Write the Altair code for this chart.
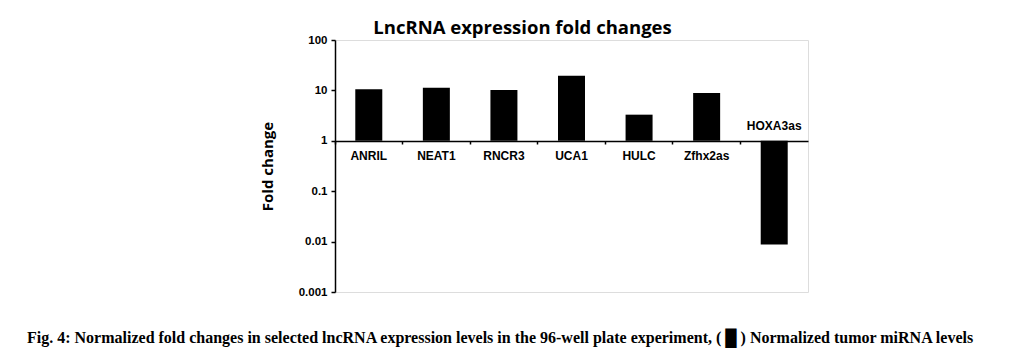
import altair as alt
import pandas as pd

genes = ["ANRIL", "NEAT1", "RNCR3", "UCA1", "HULC", "Zfhx2as", "HOXA3as"]
fold = [10.5, 11.3, 10.2, 19.6, 3.3, 8.9, 0.0088]
y_ticks = [100, 10, 1, 0.1, 0.01, 0.001]
title_text = "LncRNA expression fold changes"
y_title = "Fold change"
caption = ("Fig. 4: Normalized fold changes in selected lncRNA expression levels in the "
           "96-well plate experiment, ( \u2588 ) Normalized tumor miRNA levels")

df = pd.DataFrame({"gene": genes, "fold": fold})

W, H = 473, 252

xscale = alt.Scale(domain=genes, paddingInner=0, paddingOuter=0)
yscale = alt.Scale(type="log", domain=[0.001, 100], nice=False)

base = alt.Chart(df)

bars = base.mark_bar(color="black", size=27).encode(
    x=alt.X("gene:N", scale=xscale, sort=genes,
            axis=alt.Axis(title=None, labels=False, offset=-151, bandPosition=0,
                          domainColor="black", domainWidth=1.5, tickColor="black",
                          tickSize=3, tickWidth=1.5)),
    y=alt.Y("fold:Q", scale=yscale,
            axis=alt.Axis(values=y_ticks, title=y_title, format="~g",
                          labelExpr="datum.value >= 1 ? format(datum.value, 'd') : format(datum.value, '~g')",
                          labelFont="Liberation Sans", labelFontWeight="bold", labelFontSize=11.5,
                          labelColor="black", labelPadding=4,
                          domainColor="black", domainWidth=1.5, tickColor="black",
                          tickSize=4, tickWidth=1.5, grid=False,
                          titleFont="Open Sans", titleFontWeight="bold", titleFontSize=15,
                          titleColor="black", titleX=-68, titleY=H / 2,
                          titleBaseline="middle")),
    y2=alt.datum(1),
)

pos_labels = base.transform_filter("datum.fold >= 1").mark_text(
    font="Liberation Sans", fontWeight="bold", fontSize=12, color="black",
    baseline="top", dy=10,
).encode(x=alt.X("gene:N", scale=xscale, sort=genes), y=alt.datum(1), text="gene:N")

neg_labels = base.transform_filter("datum.fold < 1").mark_text(
    font="Liberation Sans", fontWeight="bold", fontSize=12, color="black",
    baseline="bottom", dy=-8,
).encode(x=alt.X("gene:N", scale=xscale, sort=genes), y=alt.datum(1), text="gene:N")

cap = alt.Chart(pd.DataFrame({"t": [caption]})).mark_text(
    font="Liberation Serif", fontWeight="bold", fontSize=16, color="black",
    align="left", baseline="middle",
).encode(x=alt.value(-308), y=alt.value(298), text="t:N")

chart = alt.layer(bars, pos_labels, neg_labels, cap).properties(
    width=W, height=H,
    title=alt.Title(title_text, font="Open Sans", fontWeight="bold", fontSize=18.5,
                    color="black", anchor="middle", frame="group", dx=-49, offset=-3),
    autosize="none",
    padding={"left": 327, "top": 32, "right": 200, "bottom": 60},
).configure_view(stroke=None).configure(background="white")

chart.save("out.html", embed_options={"renderer": "svg", "actions": False})
